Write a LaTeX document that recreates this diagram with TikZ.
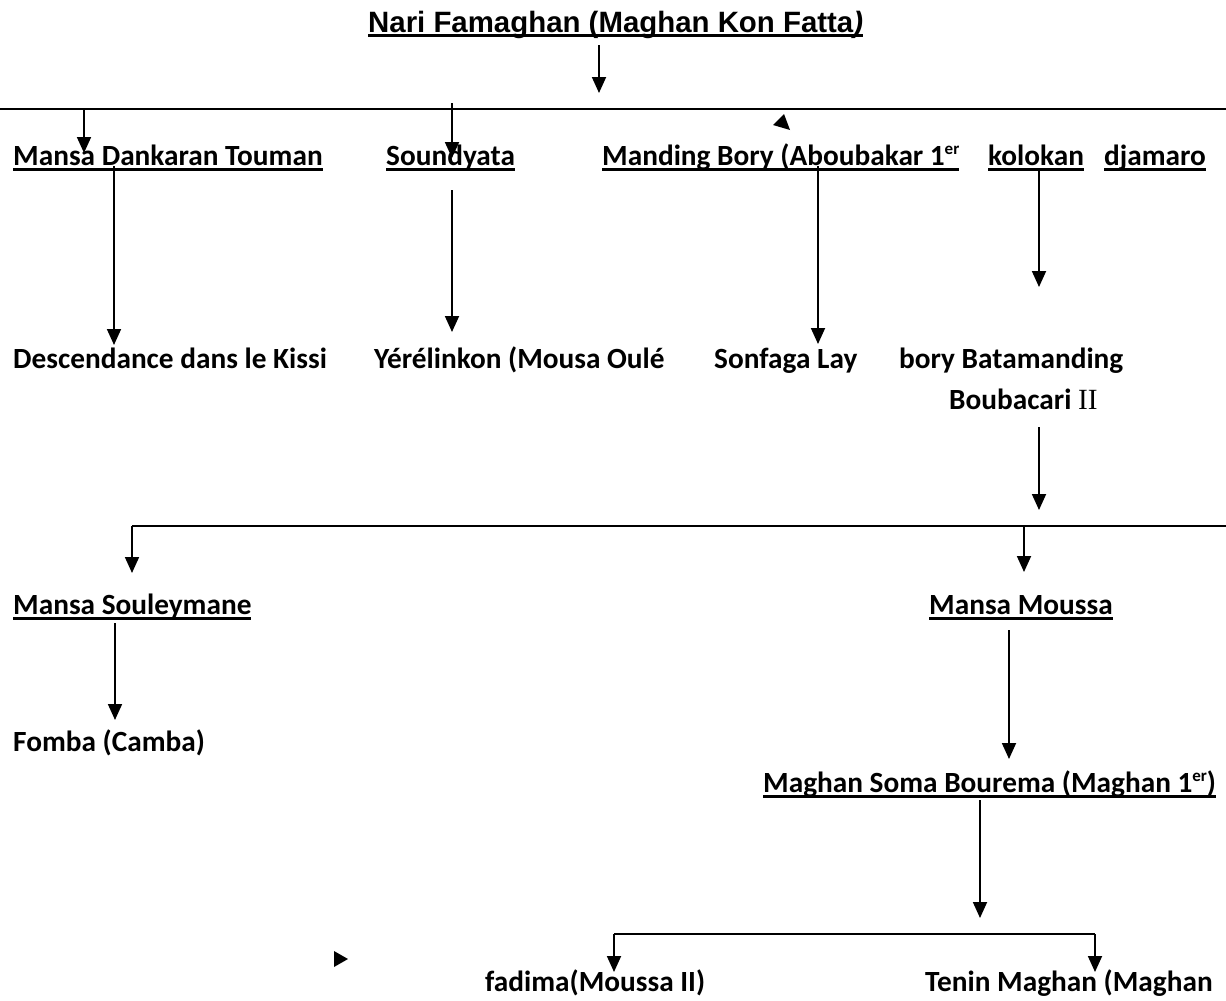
\documentclass[tikz,border=0pt]{standalone}
\usepackage{fontspec}
\setmainfont{Carlito}
\newfontfamily\arialfont{Liberation Sans}
\newfontfamily\serfont{Liberation Serif}
\usetikzlibrary{arrows.meta}
\newcommand\ulcal[1]{\setbox0\hbox{#1}\rlap{\rule[-5.6pt]{\wd0}{2.2pt}}\box0}
\newcommand\ulttl[1]{\setbox0\hbox{#1}\rlap{\rule[-5pt]{\wd0}{3pt}}\box0}
\newcommand\supr[1]{\raisebox{10.5pt}{\fontsize{17}{17}\selectfont #1}}
\tikzset{
  lbl/.style={anchor=base west, inner sep=0pt, font=\fontsize{29.3}{34}\selectfont\bfseries},
  ttl/.style={anchor=base west, inner sep=0pt, font=\fontsize{29.4}{34}\selectfont\arialfont\bfseries},
  arr/.style={line width=1.8pt, -{Triangle[length=16pt,width=14pt]}},
  hline/.style={line width=1.6pt},
  stray/.style={fill=black, draw=none}
}
\begin{document}
\begin{tikzpicture}[x=1pt,y=-1pt]
\useasboundingbox (0,0) rectangle (1226,1001);
% nodes
\node[ttl] (title) at (368,32) {\ulttl{Nari Famaghan (Maghan Kon Fatta\textit{)}}};
\node[lbl] (dankaran) at (13,165) {\ulcal{Mansa Dankaran Touman}};
\node[lbl] (soundyata) at (386,165) {\ulcal{Soundyata}};
\node[lbl] (manding) at (602,165) {\ulcal{Manding Bory (Aboubakar 1\supr{er}}};
\node[lbl] (kolokan) at (988,165) {\ulcal{kolokan}};
\node[lbl] (djamaro) at (1104,165) {\ulcal{djamaro}};
\node[lbl] (desc) at (13,368) {Descendance dans le Kissi};
\node[lbl] (yere) at (374,368) {Yérélinkon (Mousa Oulé};
\node[lbl] (sonfaga) at (714,368) {Sonfaga Lay};
\node[lbl] (bory) at (899,368) {bory Batamanding};
\node[lbl] (boubacari) at (949,409) {Boubacari {\serfont\mdseries II}};
\node[lbl] (souley) at (13,614) {\ulcal{Mansa Souleymane}};
\node[lbl] (moussa) at (929,614) {\ulcal{Mansa Moussa}};
\node[lbl] (fomba) at (13,751) {Fomba (Camba)};
\node[lbl] (soma) at (763,792) {\ulcal{Maghan Soma Bourema (Maghan 1\supr{er})}};
\node[lbl] (fadima) at (485,991) {fadima(Moussa II)};
\node[lbl] (tenin) at (925,991) {Tenin Maghan (Maghan};
% connector end points
\path (599,45) coordinate (t0) (599,93) coordinate (t1)
      (0,109) coordinate (l1a) (1226,109) coordinate (l1b)
      (84,108) coordinate (c1a) (84,153) coordinate (c1b)
      (452,103) coordinate (c2a) (452,158) coordinate (c2b)
      (114,166) coordinate (d1a) (114,345) coordinate (d1b)
      (452,190) coordinate (d2a) (452,332) coordinate (d2b)
      (818,166) coordinate (d3a) (818,344) coordinate (d3b)
      (1039,168) coordinate (d4a) (1039,287) coordinate (d4b)
      (1039,427) coordinate (e0a) (1039,510) coordinate (e0b)
      (1226,526) coordinate (l2b) (132,526) coordinate (l2a) (132,573) coordinate (e1b)
      (1024,526) coordinate (e2a) (1024,572) coordinate (e2b)
      (115,623) coordinate (f1a) (115,720) coordinate (f1b)
      (1009,630) coordinate (f2a) (1009,759) coordinate (f2b)
      (980,800) coordinate (g0a) (980,918) coordinate (g0b)
      (614,934) coordinate (g1a) (614,972) coordinate (g1b)
      (1095,934) coordinate (g2a) (1095,972) coordinate (g2b);
% connectors
\draw[arr] (t0) -- (t1);
\draw[hline] (l1a) -- (l1b);
\draw[arr] (c1a) -- (c1b);
\draw[arr] (c2a) -- (c2b);
\draw[arr] (d1a) -- (d1b);
\draw[arr] (d2a) -- (d2b);
\draw[arr] (d3a) -- (d3b);
\draw[arr] (d4a) -- (d4b);
\draw[arr] (e0a) -- (e0b);
\draw[hline] (l2b) -- (l2a);
\draw[arr] (l2a) -- (e1b);
\draw[arr] (e2a) -- (e2b);
\draw[arr] (f1a) -- (f1b);
\draw[arr] (f2a) -- (f2b);
\draw[arr] (g0a) -- (g0b);
\draw[hline] (g1a) -- (g2a);
\draw[arr] (g1a) -- (g1b);
\draw[arr] (g2a) -- (g2b);
% stray arrowheads
\fill[stray] (784,114) -- (773,125) -- (790,130) -- cycle;
\fill[stray] (334,951) -- (334,967) -- (348,959) -- cycle;
\end{tikzpicture}
\end{document}
